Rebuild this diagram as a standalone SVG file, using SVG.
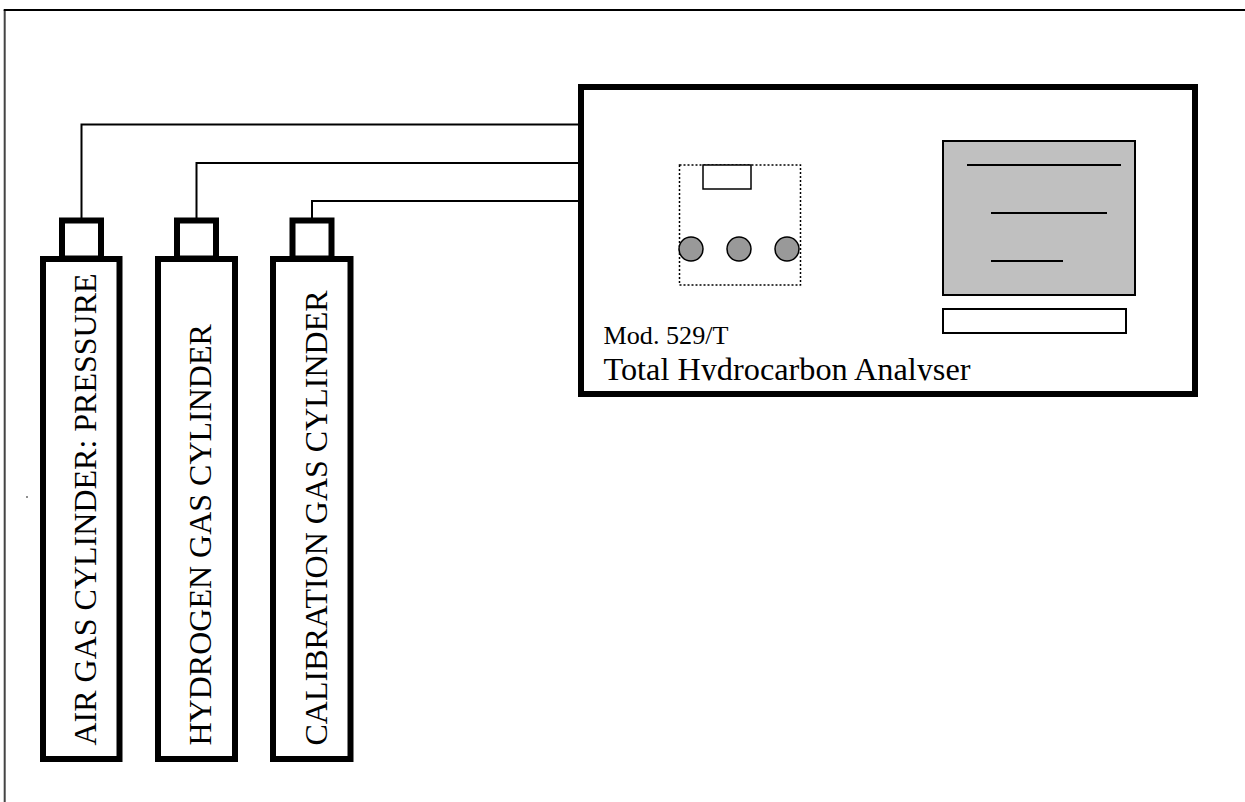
<svg xmlns="http://www.w3.org/2000/svg" width="1245" height="802" viewBox="0 0 1245 802">
<style>
text{font-family:"Liberation Serif","Times New Roman",serif;fill:#000}
.cyl{fill:#fff;stroke:#000;stroke-width:6}
.thin{fill:none;stroke:#000;stroke-width:2}
.big{font-size:32px}
.mod{font-size:26px}
.tot{font-size:31.500px}
.k{fill:#999;stroke:#000;stroke-width:1.5}
.ln{stroke:#000;stroke-width:2}
</style>
<defs><clipPath id="tc"><rect x="590" y="340" width="600" height="40.500"/></clipPath></defs>
<path id="frame" d="M4.700 802V10" fill="none" stroke="#444" stroke-width="2"/>
<path d="M3.700 10H1245" fill="none" stroke="#000" stroke-width="2"/>
<circle cx="27" cy="497" r="0.8" fill="#000"/>
<g id="connectors">
<path class="thin" d="M81.500 218V124.500H580"/>
<path class="thin" d="M196.500 218V163H580"/>
<path class="thin" d="M312 218V201H580"/>
</g>
<g id="air-cylinder">
<rect class="cyl" x="62" y="220.500" width="39" height="38"/>
<rect class="cyl" x="43" y="259" width="76.500" height="500"/>
<text class="big" transform="translate(95.500 745.500) rotate(-90)">AIR GAS CYLINDER: PRESSURE</text>
</g>
<g id="hydrogen-cylinder">
<rect class="cyl" x="177" y="220.500" width="39" height="38"/>
<rect class="cyl" x="158" y="259" width="77" height="500"/>
<text class="big" transform="translate(211 745.500) rotate(-90)">HYDROGEN GAS CYLINDER</text>
</g>
<g id="calibration-cylinder">
<rect class="cyl" x="292.500" y="220.500" width="39" height="38"/>
<rect class="cyl" x="273" y="259" width="77.500" height="500"/>
<text class="big" transform="translate(326.500 745.500) rotate(-90)">CALIBRATION GAS CYLINDER</text>
</g>
<g id="analyser">
<rect x="581" y="87" width="614" height="307" fill="#fff" stroke="#000" stroke-width="6"/>
<rect x="679.500" y="165" width="121" height="120" fill="none" stroke="#000" stroke-width="1.500" stroke-dasharray="2 2"/>
<rect x="703" y="165" width="48" height="24" fill="#fff" stroke="#000" stroke-width="1.500"/>
<ellipse class="k" cx="691" cy="249" rx="12" ry="12"/>
<ellipse class="k" cx="739" cy="249" rx="12" ry="12"/>
<ellipse class="k" cx="787" cy="249" rx="12" ry="12"/>
<rect x="943" y="141" width="192" height="154" fill="#c0c0c0" stroke="#000" stroke-width="2"/>
<line class="ln" x1="967" y1="165" x2="1121" y2="165"/>
<line class="ln" x1="991" y1="213" x2="1107" y2="213"/>
<line class="ln" x1="991" y1="261" x2="1063" y2="261"/>
<rect x="943" y="309" width="183" height="24" fill="#fff" stroke="#000" stroke-width="2"/>
<text class="mod" x="603.500" y="344" textLength="125" lengthAdjust="spacingAndGlyphs">Mod. 529/T</text>
<text class="tot" x="603.500" y="380" textLength="367" lengthAdjust="spacingAndGlyphs" clip-path="url(#tc)">Total Hydrocarbon Analyser</text>
</g>
</svg>
